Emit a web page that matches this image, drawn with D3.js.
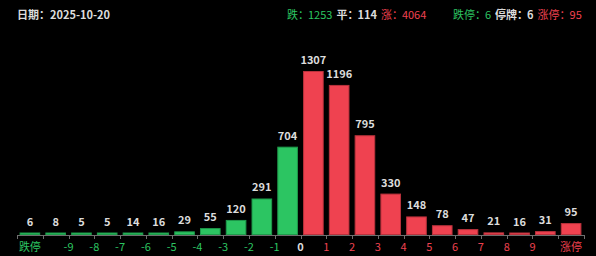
<!DOCTYPE html>
<html>
<head>
<meta charset="utf-8">
<script src="https://cdn.jsdelivr.net/npm/d3@7"></script>
<style>
  html, body { margin: 0; padding: 0; background: #000; }
  svg { display: block; font-family: "Noto Sans CJK SC", "Noto Sans", sans-serif; }
</style>
</head>
<body>
<script>
(function () {

    // bucket order: 跌停, <-9 ... >9, 涨停
    var counts = [6, 8, 5, 5, 14, 16, 29, 55, 120, 291, 704,
                  1307, 1196, 795, 330, 148, 78, 47, 21, 16, 31, 95];
    // tick labels sit on the boundaries between buckets (except the two ends)
    var tickLabels = ["-9", "-8", "-7", "-6", "-5", "-4", "-3", "-2", "-1", "0",
                      "1", "2", "3", "4", "5", "6", "7", "8", "9"];
    var endLabels = ["跌停", "涨停"];
    var dateText = "2025-10-20";
    var summary1 = [["跌：", "1253", "down"], ["平：", "114", "flat"], ["涨：", "4064", "up"]];
    var summary2 = [["跌停：", "6", "down"], ["停牌：", "6", "flat"], ["涨停：", "95", "up"]];

    var colors = { down: "#2cc562", up: "#ef4250", flat: "#dcdcdc" };
    var strokes = { down: "#1e9a4b", up: "#b8323c" };

    var width = 596, height = 256;
    var margin = { left: 17, right: 12, top: 71, bottom: 21 };

    var svg = d3.select("body").append("svg")
        .attr("width", width)
        .attr("height", height);

    svg.append("rect").attr("width", width).attr("height", height).attr("fill", "#000");

    //header
    svg.append("text")
        .attr("x", 17).attr("y", 19)
        .attr("fill", colors.flat)
        .attr("font-size", 11)
        .attr("font-weight", "bold")
        .text("日期：" + dateText);

    function drawSummary(items, x0) {
        var t = svg.append("text")
            .attr("x", x0).attr("y", 19)
            .attr("font-size", 11);
        items.forEach(function (it, i) {
            t.append("tspan")
                .attr("dx", i === 0 ? 0 : 4)
                .attr("fill", colors[it[2]])
                .attr("font-weight", it[2] === "flat" ? "bold" : "normal")
                .text(it[0]);
            t.append("tspan")
                .attr("dx", -1)
                .attr("fill", colors[it[2]])
                .attr("font-weight", it[2] === "flat" ? "bold" : "normal")
                .text(it[1]);
        });
    }
    drawSummary(summary1, 287);
    drawSummary(summary2, 453);

    //scales
    var x = d3.scaleBand()
        .domain(d3.range(counts.length))
        .range([margin.left, width - margin.right])
        .paddingInner(0.2)
        .paddingOuter(0.1);
    var step = x.step();
    var x0 = margin.left;

    var baseY = height - margin.bottom;
    var y = d3.scaleLinear()
        .domain([0, d3.max(counts)])
        .range([baseY, margin.top]);

    function side(i) { return i < counts.length / 2 ? "down" : "up"; }
    function barTop(d) { return Math.min(y(d), baseY - 2.5); }

    //bars
    svg.selectAll(".bar")
        .data(counts)
        .enter()
        .append("rect")
        .attr("class", "bar")
        .attr("x", function (d, i) { return x(i) + 0.5; })
        .attr("y", function (d) { return barTop(d) + 0.5; })
        .attr("width", x.bandwidth() - 1)
        .attr("height", function (d) { return baseY - barTop(d) - 1; })
        .attr("fill", function (d, i) { return colors[side(i)]; })
        .attr("stroke", function (d, i) { return strokes[side(i)]; })
        .attr("stroke-width", 1);

    //value labels
    svg.selectAll(".num")
        .data(counts)
        .enter()
        .append("text")
        .attr("class", "num")
        .attr("text-anchor", "middle")
        .attr("x", function (d, i) { return x(i) + x.bandwidth() / 2; })
        .attr("y", function (d) { return barTop(d) - 7; })
        .attr("fill", "#dcdcdc")
        .attr("font-size", 11)
        .attr("font-weight", "bold")
        .text(function (d) { return d; });

    //axis line + ticks at bucket boundaries
    svg.append("line")
        .attr("x1", x0).attr("x2", x0 + step * counts.length)
        .attr("y1", baseY + 0.5).attr("y2", baseY + 0.5)
        .attr("stroke", "#6e6e6e");
    svg.selectAll(".tick")
        .data(d3.range(counts.length + 1))
        .enter()
        .append("line")
        .attr("x1", function (i) { return Math.round(x0 + i * step) + 0.5; })
        .attr("x2", function (i) { return Math.round(x0 + i * step) + 0.5; })
        .attr("y1", baseY).attr("y2", baseY + 4)
        .attr("stroke", "#6e6e6e");

    //tick labels
    function labelColor(s) {
        if (s === "0") return colors.flat;
        if (s === "跌停" || s.charAt(0) === "-") return colors.down;
        return colors.up;
    }
    svg.selectAll(".tl")
        .data(tickLabels)
        .enter()
        .append("text")
        .attr("class", "tl")
        .attr("text-anchor", "middle")
        .attr("x", function (d, i) { return x0 + (i + 2) * step; })
        .attr("y", baseY + 16)
        .attr("font-size", 11)
        .attr("font-weight", function (d) { return d === "0" ? "bold" : "normal"; })
        .attr("fill", labelColor)
        .text(function (d) { return d; });
    svg.selectAll(".el")
        .data(endLabels)
        .enter()
        .append("text")
        .attr("class", "el")
        .attr("text-anchor", "middle")
        .attr("x", function (d, i) {
            var idx = i === 0 ? 0 : counts.length - 1;
            return x(idx) + x.bandwidth() / 2;
        })
        .attr("y", baseY + 16)
        .attr("font-size", 11)
        .attr("fill", labelColor)
        .text(function (d) { return d; });
})();
</script>
</body>
</html>
